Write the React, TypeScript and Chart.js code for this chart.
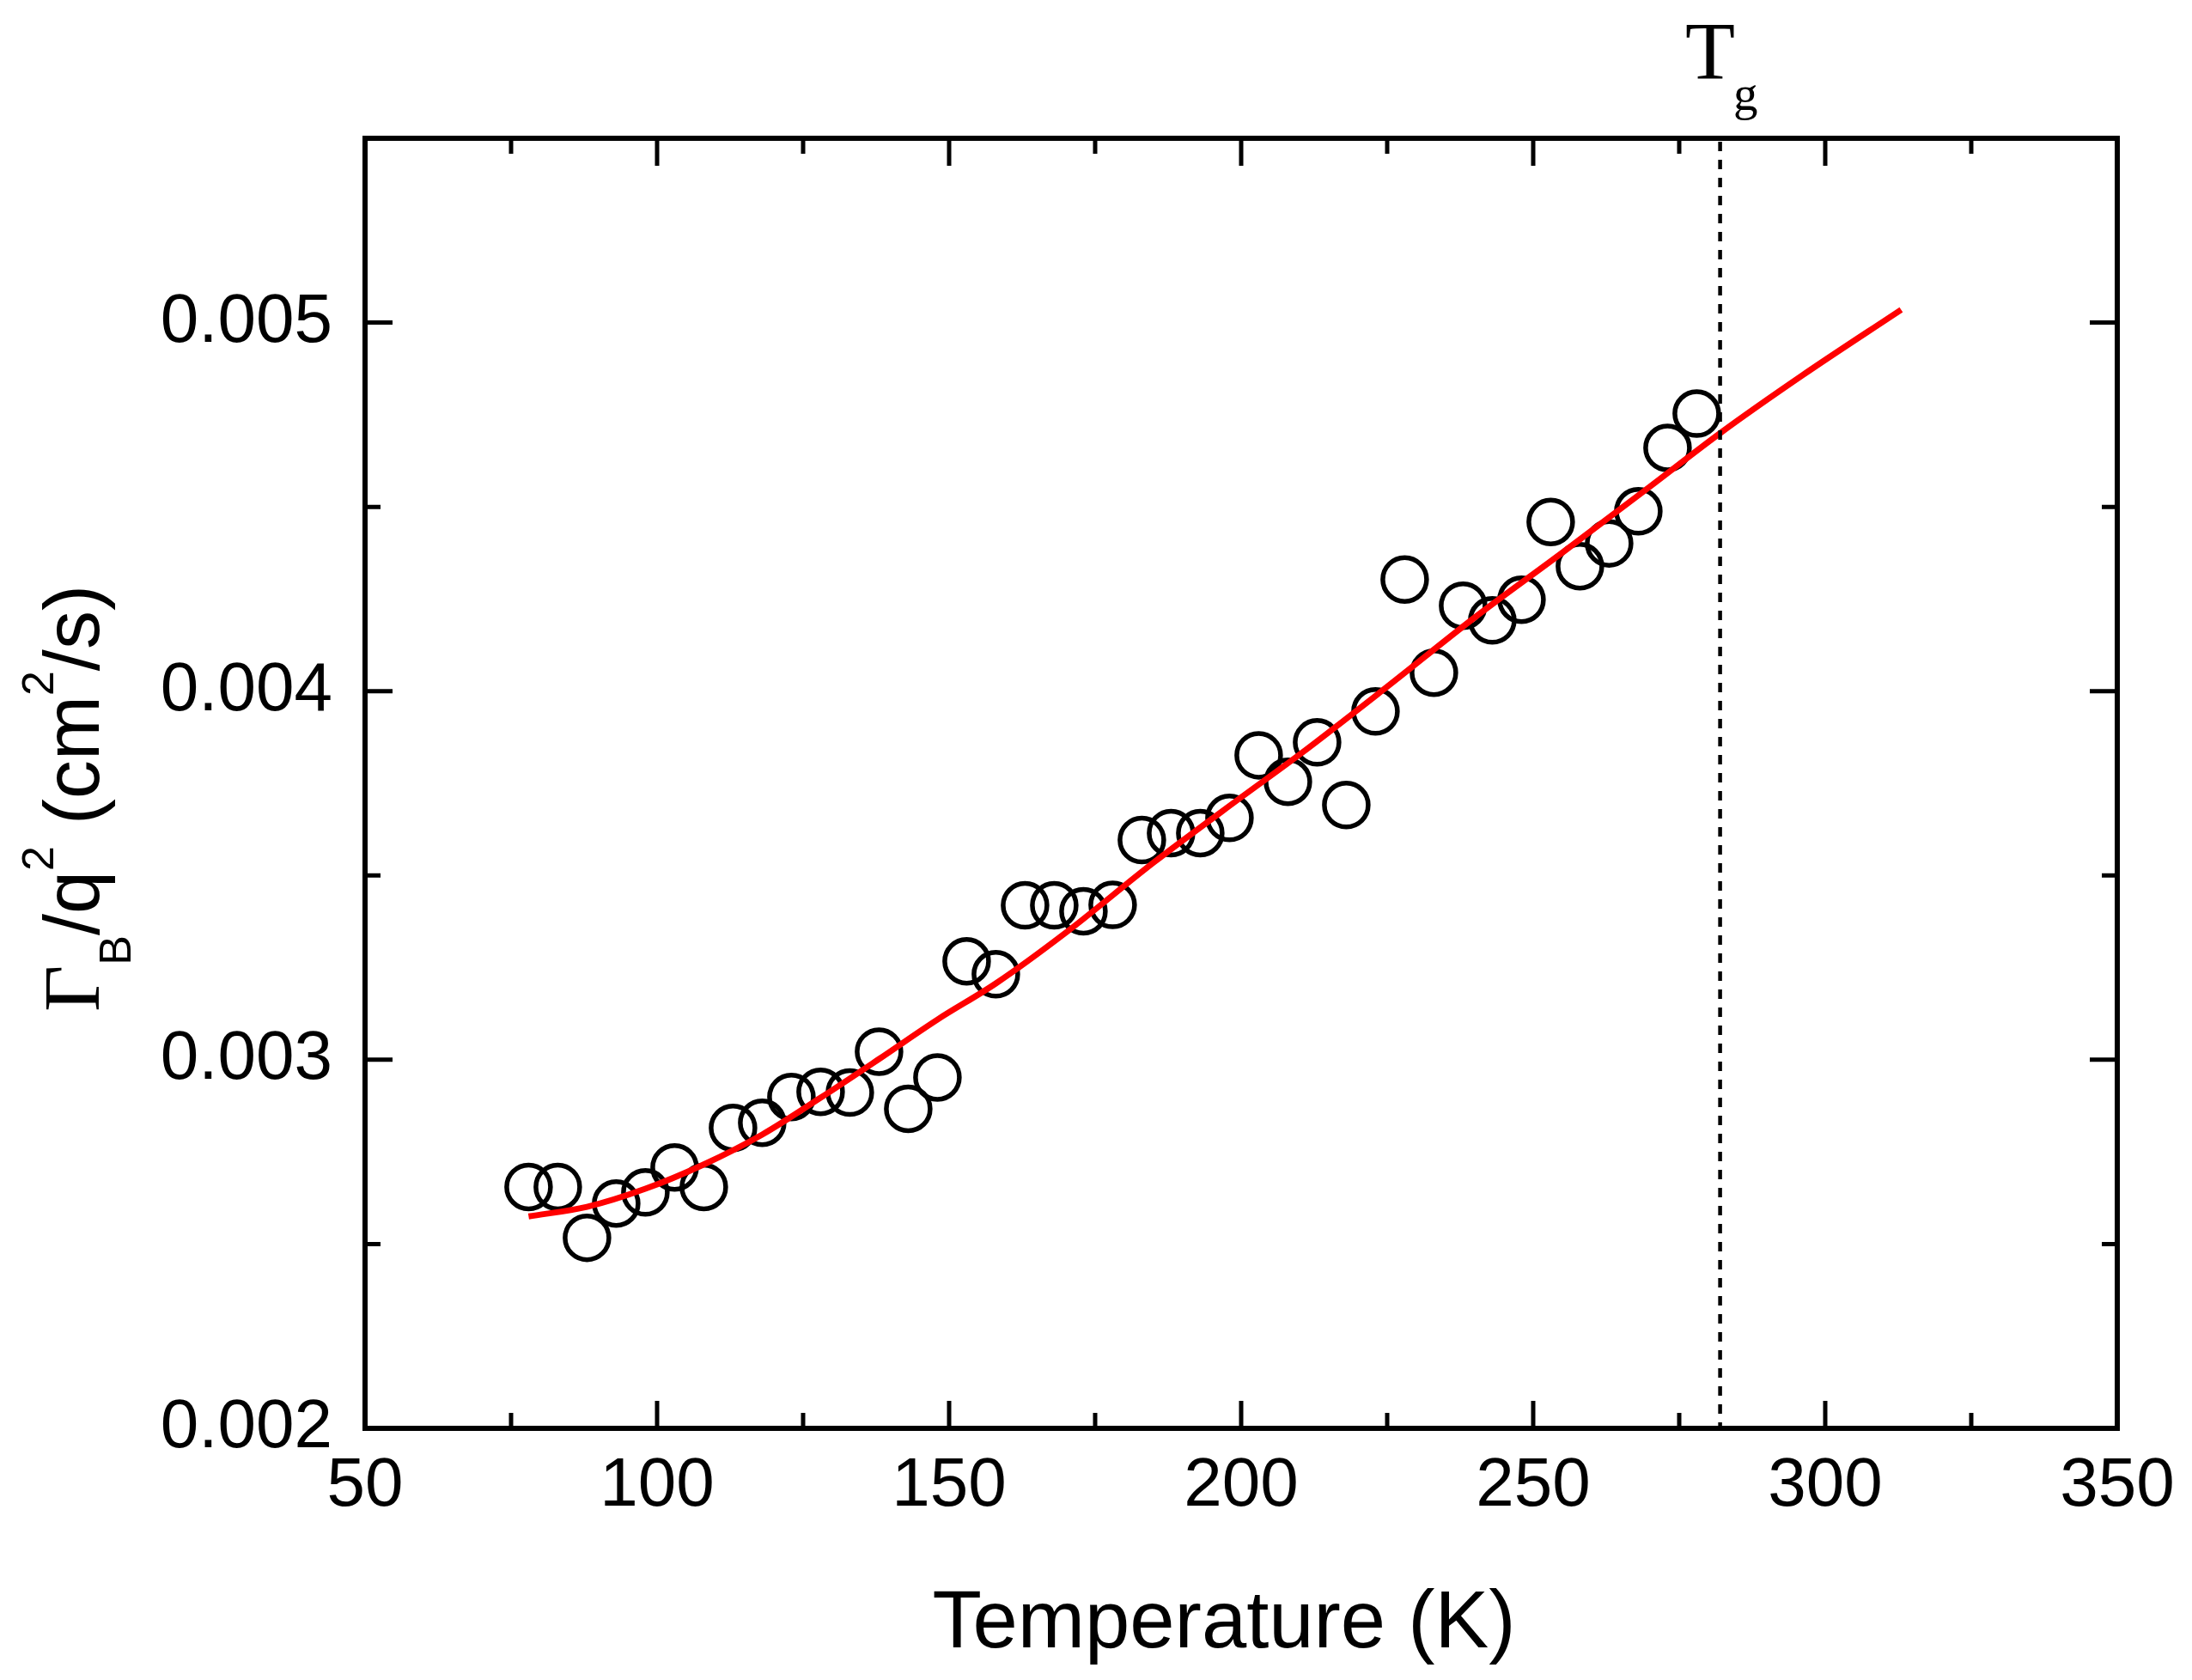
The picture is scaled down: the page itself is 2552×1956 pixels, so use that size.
import React, { useEffect, useRef } from 'react';
import { Chart, registerables } from 'chart.js';

Chart.register(...registerables);

// measured points (open circles)
const temps = [
  78, 83, 88, 93, 98, 103, 108, 113, 118, 123, 128, 133, 138, 143, 148, 153, 158, 163, 168, 173, 178,
  183, 188, 193, 198, 203, 208, 213, 218, 223, 228, 233, 238, 243, 248, 253, 258, 263, 268, 273, 278,
];
const gammaOverQ2 = [
  0.002655, 0.002655, 0.002517, 0.00261, 0.00264, 0.002708, 0.002655, 0.002815, 0.002829, 0.002899,
  0.002913, 0.002911, 0.003022, 0.002867, 0.002952, 0.003267, 0.003232, 0.003419, 0.003419, 0.003403,
  0.00342, 0.003596, 0.003615, 0.003615, 0.003656, 0.003826, 0.003754, 0.003861, 0.003691, 0.003945,
  0.004303, 0.00405, 0.004232, 0.004192, 0.004248, 0.004459, 0.004339, 0.004401, 0.004488, 0.00466,
  0.004753,
];

// red fit curve
const fitTemps = [78, 88, 98, 108, 118, 128, 138, 148, 158, 170, 185, 200, 210, 225, 240, 255, 270, 282, 296, 313];
const fitValues = [
  0.002575, 0.002601, 0.00265, 0.002716, 0.002797, 0.002897, 0.003002, 0.003109, 0.003207, 0.003345,
  0.003535, 0.003712, 0.003828, 0.004012, 0.0042, 0.004376, 0.004555, 0.0047, 0.004856, 0.005035,
];

const xTicks = [50, 100, 150, 200, 250, 300, 350];
const xMinorTicks = [75, 125, 175, 225, 275, 325];
const yTicks = [0.002, 0.003, 0.004, 0.005];
const yMinorTicks = [0.0025, 0.0035, 0.0045];
const TG = 282;

const SANS = '"Liberation Sans", Arial, sans-serif';
const SERIF = '"Liberation Serif", "Times New Roman", serif';

const framePlugin = {
  id: 'frame',
  afterDraw(chart: any) {
    const { ctx, chartArea, scales } = chart;
    const { left, right, top, bottom } = chartArea;
    const x = scales.x;
    const y = scales.y;
    ctx.save();

    // Tg marker
    const tx = x.getPixelForValue(TG);
    ctx.strokeStyle = '#000';
    ctx.lineWidth = 4.5;
    ctx.setLineDash([11, 10]);
    ctx.beginPath();
    ctx.moveTo(tx, top + 4);
    ctx.lineTo(tx, bottom);
    ctx.stroke();
    ctx.setLineDash([]);

    // ticks, inward on all four sides
    ctx.lineWidth = 5;
    const major = 32;
    const minor = 18;
    const vTick = (v: number, len: number) => {
      const px = x.getPixelForValue(v);
      ctx.beginPath();
      ctx.moveTo(px, bottom);
      ctx.lineTo(px, bottom - len);
      ctx.moveTo(px, top);
      ctx.lineTo(px, top + len);
      ctx.stroke();
    };
    const hTick = (v: number, len: number) => {
      const py = y.getPixelForValue(v);
      ctx.beginPath();
      ctx.moveTo(left, py);
      ctx.lineTo(left + len, py);
      ctx.moveTo(right, py);
      ctx.lineTo(right - len, py);
      ctx.stroke();
    };
    xTicks.forEach((v) => vTick(v, major));
    xMinorTicks.forEach((v) => vTick(v, minor));
    yTicks.forEach((v) => hTick(v, major));
    yMinorTicks.forEach((v) => hTick(v, minor));

    // frame
    ctx.lineWidth = 6;
    ctx.lineJoin = 'miter';
    ctx.strokeRect(left, top, right - left, bottom - top);

    ctx.fillStyle = '#000';

    // x title
    ctx.font = `94px ${SANS}`;
    ctx.textAlign = 'center';
    ctx.textBaseline = 'alphabetic';
    ctx.fillText('Temperature (K)', (left + right) / 2 - 20, 1918);

    // y title, rotated, with sub/superscripts
    const parts: { t: string; font: string; dy: number }[] = [
      { t: 'Γ', font: `94px ${SERIF}`, dy: 0 },
      { t: 'B', font: `52px ${SANS}`, dy: 37 },
      { t: '/q', font: `90px ${SANS}`, dy: 0 },
      { t: '2', font: `52px ${SANS}`, dy: -53 },
      { t: ' (cm', font: `90px ${SANS}`, dy: 0 },
      { t: '2', font: `52px ${SANS}`, dy: -53 },
      { t: '/s)', font: `90px ${SANS}`, dy: 0 },
    ];
    ctx.save();
    ctx.translate(115, 1178);
    ctx.rotate(-Math.PI / 2);
    ctx.textAlign = 'left';
    let cx = 0;
    parts.forEach((p) => {
      ctx.font = p.font;
      ctx.fillText(p.t, cx, p.dy);
      cx += ctx.measureText(p.t).width;
    });
    ctx.restore();

    // Tg label
    ctx.textAlign = 'left';
    ctx.font = `95px ${SERIF}`;
    ctx.fillText('T', 1962, 92);
    ctx.font = `57px ${SERIF}`;
    ctx.fillText('g', 2018, 128);

    ctx.restore();
  },
};

const App: React.FC = () => {
  const chartRef = useRef<HTMLCanvasElement>(null);
  const chartInstance = useRef<Chart | null>(null);

  useEffect(() => {
    document.body.style.margin = '0';
    if (chartRef.current) {
      if (chartInstance.current) {
        chartInstance.current.destroy();
      }

      chartInstance.current = new Chart(chartRef.current, {
        type: 'scatter',
        data: {
          datasets: [
            {
              label: 'fit',
              data: fitTemps.map((t, i) => ({ x: t, y: fitValues[i] })),
              showLine: true,
              borderColor: '#ff0000',
              borderWidth: 7,
              pointRadius: 0,
              tension: 0.4,
              cubicInterpolationMode: 'monotone',
              order: 0,
            },
            {
              label: 'data',
              data: temps.map((t, i) => ({ x: t, y: gammaOverQ2[i] })),
              showLine: false,
              pointStyle: 'circle',
              pointRadius: 25.5,
              pointBorderWidth: 5.5,
              borderColor: '#000',
              backgroundColor: 'rgba(0,0,0,0)',
              pointBackgroundColor: 'rgba(0,0,0,0)',
              order: 1,
            },
          ],
        },
        options: {
          animation: false,
          responsive: true,
          maintainAspectRatio: false,
          devicePixelRatio: 1,
          layout: { padding: { top: 161, right: 87, left: 0, bottom: 0 } },
          plugins: {
            legend: { display: false },
            tooltip: { enabled: false },
          },
          scales: {
            x: {
              type: 'linear',
              min: 50,
              max: 350,
              afterBuildTicks: (scale: any) => {
                scale.ticks = xTicks.map((v) => ({ value: v }));
              },
              afterFit: (scale: any) => {
                scale.height = 293;
              },
              ticks: {
                color: '#000',
                font: { family: SANS, size: 80 },
                padding: 20,
                maxRotation: 0,
                autoSkip: false,
              },
              grid: { display: false, drawTicks: false },
              border: { display: false },
            },
            y: {
              type: 'linear',
              min: 0.002,
              max: 0.0055,
              afterBuildTicks: (scale: any) => {
                scale.ticks = yTicks.map((v) => ({ value: v }));
              },
              afterFit: (scale: any) => {
                scale.width = 425;
              },
              ticks: {
                color: '#000',
                font: { family: SANS, size: 80 },
                padding: 38,
                callback: (v: any) => Number(v).toFixed(3),
              },
              grid: { display: false, drawTicks: false },
              border: { display: false },
            },
          },
        },
        plugins: [framePlugin],
      });
    }

    return () => {
      if (chartInstance.current) {
        chartInstance.current.destroy();
        chartInstance.current = null;
      }
    };
  }, []);

  return (
    <div style={{ width: 2552, height: 1956, position: 'relative', background: '#fff' }}>
      <canvas ref={chartRef}></canvas>
    </div>
  );
};

export default App;
